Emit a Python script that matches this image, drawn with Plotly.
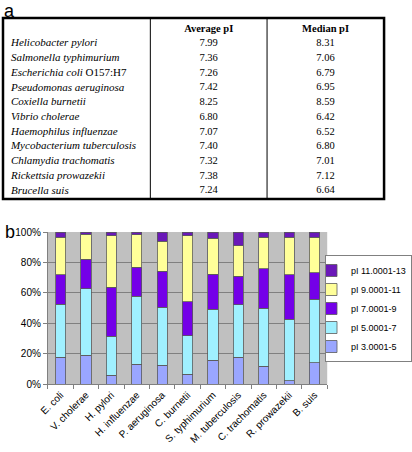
import plotly.graph_objects as go

W, H = 412, 452

# ---------------- Panel a: table data ----------------
species = ["Helicobacter pylori", "Salmonella typhimurium", "Escherichia coli",
           "Pseudomonas aeruginosa", "Coxiella burnetii", "Vibrio cholerae",
           "Haemophilus influenzae", "Mycobacterium tuberculosis",
           "Chlamydia trachomatis", "Rickettsia prowazekii", "Brucella suis"]
species_suffix = ["", "", " O157:H7", "", "", "", "", "", "", "", ""]
avg_pi = [7.99, 7.36, 7.26, 7.42, 8.25, 6.80, 7.07, 7.40, 7.32, 7.38, 7.24]
median_pi = [8.31, 7.06, 6.79, 6.95, 8.59, 6.42, 6.52, 6.80, 7.01, 7.12, 6.64]
table_headers = ["", "Average pI", "Median pI"]

# ---------------- Panel b: stacked bar data (% of proteins) ----------------
organisms = ["E. coli", "V. cholerae", "H. pylori", "H. influenzae", "P. aeruginosa",
             "C. burnetii", "S. typhimurium", "M. tuberculosis", "C. trachomatis",
             "R. prowazekii", "B. suis"]
pi_3_5 = [17.7, 19.2, 6.1, 13.1, 12.4, 6.5, 15.9, 17.7, 12.0, 2.2, 14.0]
pi_5_7 = [35.0, 43.5, 25.6, 44.8, 38.1, 25.4, 33.3, 34.5, 37.8, 40.6, 41.9]
pi_7_9 = [19.2, 19.5, 32.1, 19.0, 23.6, 22.3, 23.1, 18.6, 26.0, 29.1, 17.5]
pi_9_11 = [24.5, 16.4, 33.9, 21.2, 19.7, 43.5, 23.6, 20.3, 20.8, 24.7, 23.0]
pi_11_13 = [3.6, 1.4, 2.3, 1.9, 6.2, 2.3, 4.1, 8.9, 3.4, 3.4, 3.6]
series_names = ["pI 3.0001-5", "pI 5.0001-7", "pI 7.0001-9", "pI 9.0001-11", "pI 11.0001-13"]
y_tick_values = [0, 20, 40, 60, 80, 100]
y_tick_labels = ["0%", "20%", "40%", "60%", "80%", "100%"]

series_values = [pi_3_5, pi_5_7, pi_7_9, pi_9_11, pi_11_13]
series_colors = ["#9AA6FF", "#A0F0FF", "#7400E8", "#FFFF99", "#6A18B8"]

SERIF = "Liberation Serif"
SANS = "Liberation Sans"

fig = go.Figure()

for name, vals, col in zip(series_names, series_values, series_colors):
    fig.add_trace(go.Bar(
        x=organisms, y=vals, name=name,
        marker=dict(color=col, line=dict(color="#5a5a5a", width=0.8)),
        xaxis="x", yaxis="y",
    ))

# ---------------- table as text through its own axes ----------------
col_w = [147.7, 117.0, 117.3]
col_edges = [0, col_w[0], col_w[0] + col_w[1], sum(col_w)]
col_centers = [(col_edges[i] + col_edges[i + 1]) / 2 for i in range(3)]
rows = list(range(len(species)))

species_text = ["<i>%s</i>%s" % (s, suf) for s, suf in zip(species, species_suffix)]
tfont = dict(family=SERIF, size=10.5, color="black")

fig.add_trace(go.Scatter(
    x=[8] * len(rows), y=rows, text=species_text, mode="text",
    textposition="middle right", textfont=dict(family=SERIF, size=11, color="black"),
    xaxis="x2", yaxis="y2", showlegend=False, hoverinfo="skip"))
fig.add_trace(go.Scatter(
    x=[col_centers[1]] * len(rows), y=rows, text=["%.2f" % v for v in avg_pi],
    mode="text", textposition="middle center", textfont=tfont,
    xaxis="x2", yaxis="y2", showlegend=False, hoverinfo="skip"))
fig.add_trace(go.Scatter(
    x=[col_centers[2]] * len(rows), y=rows, text=["%.2f" % v for v in median_pi],
    mode="text", textposition="middle center", textfont=tfont,
    xaxis="x2", yaxis="y2", showlegend=False, hoverinfo="skip"))
fig.add_trace(go.Scatter(
    x=col_centers[1:], y=[-1, -1], text=["<b>%s</b>" % h for h in table_headers[1:]],
    mode="text", textposition="middle center", textfont=tfont,
    xaxis="x2", yaxis="y2", showlegend=False, hoverinfo="skip"))

shapes = [
    # gray plot background of panel b
    dict(type="rect", xref="x domain", yref="y domain", x0=0, x1=1, y0=0, y1=1,
         fillcolor="#C0C0C0", line=dict(width=0), layer="below"),
    # table outer border
    dict(type="rect", xref="x2 domain", yref="y2 domain", x0=0, x1=1, y0=0, y1=1,
         line=dict(color="black", width=2.5)),
]
for xe in col_edges[1:3]:
    shapes.append(dict(type="line", xref="x2", yref="y2 domain", x0=xe, x1=xe, y0=0, y1=1,
                       line=dict(color="black", width=1)))

fig.update_layout(
    width=W, height=H,
    margin=dict(l=0, r=0, t=0, b=0),
    paper_bgcolor="white", plot_bgcolor="white",
    template="none",
    barmode="stack", bargap=0.6,
    font=dict(family=SANS, size=10, color="black"),
    xaxis=dict(domain=[48 / W, 328 / W], anchor="y", type="category",
               tickangle=-45, ticks="outside", tickson="boundaries", ticklen=4,
               tickcolor="#808080", showline=True, linecolor="#808080", linewidth=1,
               showgrid=False, automargin=False, tickfont=dict(family=SANS, size=10)),
    yaxis=dict(domain=[(H - 384.3) / H, (H - 232) / H], anchor="x",
               range=[0, 100], tickmode="array", tickvals=y_tick_values,
               ticktext=y_tick_labels,
               ticks="outside", ticklen=4, tickcolor="#808080",
               showline=True, linecolor="#808080", linewidth=1,
               showgrid=True, gridcolor="#808080", gridwidth=1,
               zeroline=False, automargin=False, tickfont=dict(family=SANS, size=10)),
    xaxis2=dict(domain=[3 / W, 385 / W], anchor="y2", range=[0, sum(col_w)],
                visible=False, fixedrange=True),
    yaxis2=dict(domain=[(H - 199) / H, (H - 18) / H], anchor="x2",
                range=[10.56, -1.75], visible=False, fixedrange=True),
    shapes=shapes,
    showlegend=True,
    legend=dict(x=326 / W, xanchor="left", y=(H - 308.5) / H, yanchor="middle",
                traceorder="reversed", bgcolor="white", bordercolor="#808080",
                borderwidth=1, font=dict(family=SANS, size=9), indentation=-15,
                tracegroupgap=0),
    annotations=[
        dict(text="a", x=3 / W, y=1, xref="paper", yref="paper",
             xanchor="left", yanchor="top", showarrow=False, borderpad=0,
             font=dict(family=SANS, size=18)),
        dict(text="b", x=3 / W, y=(H - 232) / H, xref="paper", yref="paper",
             xanchor="left", yanchor="middle", showarrow=False,
             font=dict(family=SANS, size=18)),
    ],
)

fig.write_html("out.html", config={"displayModeBar": False},
               post_script=["document.body.style.margin='0';"])
